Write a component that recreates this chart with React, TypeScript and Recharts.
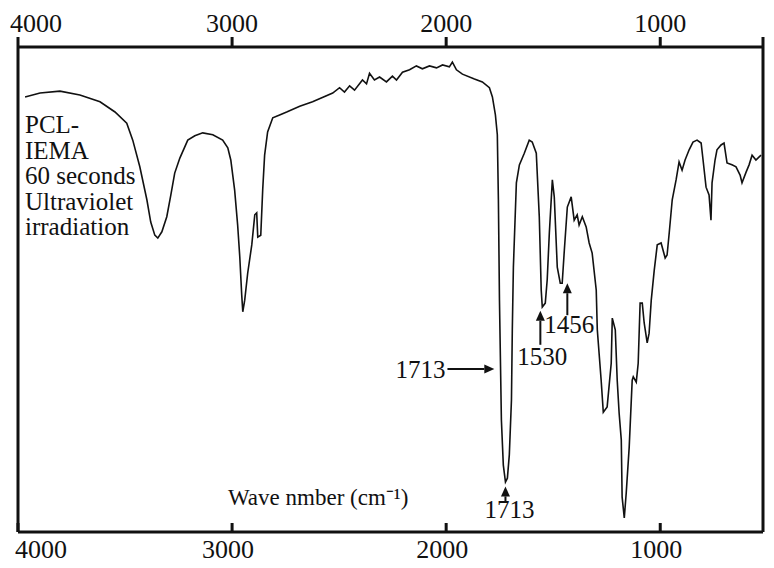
import { LineChart, Line, XAxis, YAxis, ReferenceLine } from "recharts";

// FTIR spectrum (wavenumber in cm-1, transmittance in %)
const wavenumbers = [
  3967, 3897, 3804, 3711, 3617, 3547, 3492, 3464, 3431, 3398, 3380, 3361, 3347, 3328, 3305, 3286,
  3268, 3244, 3207, 3174, 3137, 3090, 3044, 3020, 3006, 2988, 2974, 2964, 2955, 2950, 2941, 2927,
  2908, 2894, 2885, 2880, 2866, 2857, 2848, 2834, 2810, 2778, 2745, 2684, 2624, 2530, 2498, 2475,
  2451, 2428, 2391, 2372, 2358, 2335, 2311, 2279, 2251, 2232, 2204, 2171, 2139, 2111, 2078, 2045,
  2017, 1985, 1971, 1952, 1924, 1868, 1831, 1798, 1784, 1770, 1761, 1756, 1751, 1742, 1733, 1723,
  1714, 1705, 1695, 1691, 1686, 1672, 1658, 1635, 1612, 1598, 1579, 1565, 1556, 1551, 1537, 1528,
  1518, 1504, 1495, 1481, 1467, 1458, 1448, 1434, 1416, 1402, 1388, 1379, 1364, 1346, 1332, 1318,
  1299, 1294, 1276, 1266, 1248, 1229, 1224, 1210, 1201, 1192, 1182, 1178, 1168, 1159, 1145, 1131,
  1126, 1112, 1103, 1094, 1084, 1075, 1061, 1052, 1042, 1028, 1014, 996, 977, 968, 958, 944,
  926, 912, 898, 884, 865, 847, 828, 809, 800, 786, 772, 763, 758, 744, 735, 716,
  702, 688, 665, 646, 627, 618, 599, 585, 571, 553, 539, 529,
];
const transmittance = [
  89.7, 90.5, 90.9, 90.1, 88.7, 86.6, 84.3, 80.8, 75.3, 68.5, 63.9, 61.2, 60.6, 61.9, 65.0, 69.5,
  74.0, 77.1, 80.8, 81.7, 82.3, 81.9, 80.8, 79.2, 76.7, 70.5, 63.3, 56.7, 48.9, 45.4, 47.8, 53.4,
  59.2, 65.4, 65.8, 60.8, 61.2, 70.5, 77.7, 82.5, 85.4, 86.0, 86.6, 87.8, 88.7, 90.5, 91.6, 90.7,
  92.0, 91.1, 93.2, 92.4, 94.6, 93.2, 93.8, 92.8, 94.0, 93.2, 94.8, 95.3, 96.1, 95.5, 96.1, 95.7,
  96.3, 95.9, 96.9, 95.3, 94.4, 93.4, 92.8, 91.6, 89.7, 86.0, 81.9, 68.5, 47.8, 23.1, 13.8, 10.3,
  11.1, 15.9, 27.2, 41.7, 54.6, 72.0, 75.7, 78.1, 80.8, 80.4, 78.1, 65.0, 49.9, 46.4, 47.2, 52.0,
  61.7, 72.6, 69.1, 54.6, 51.3, 51.3, 58.1, 67.0, 69.1, 64.3, 65.4, 63.3, 65.0, 62.9, 59.6, 57.5,
  49.9, 41.7, 31.3, 24.7, 25.8, 34.8, 44.1, 41.7, 31.3, 24.5, 19.0, 7.2, 2.9, 8.0, 17.5, 31.3,
  32.0, 30.9, 34.8, 47.2, 47.2, 43.1, 39.0, 41.0, 47.8, 54.0, 59.2, 59.6, 56.5, 57.1, 61.7, 68.5,
  72.6, 76.3, 74.6, 76.7, 78.8, 80.4, 80.8, 80.2, 76.7, 71.1, 69.5, 64.3, 72.0, 76.7, 78.8, 79.8,
  80.2, 76.1, 75.7, 75.3, 73.6, 72.0, 74.2, 75.7, 77.7, 76.7, 77.3, 77.7,
];

const topTicks = [4000, 3000, 2000, 1000, 520];
const bottomTicks = [4000, 3000, 2000, 1000];

const sampleLines = ["PCL-", "IEMA", "60 seconds", "Ultraviolet", "irradiation"];
const axisTitle = "Wave nmber (cm⁻¹)";

// peak markers: label, arrow tail, arrow head (data coordinates)
const peakLabels = ["1713", "1713", "1530", "1456"];
const arrowTail = [
  [1994, 33.6],
  [1723, 6.0],
  [1560, 38.6],
  [1434, 44.7],
];
const arrowHead = [
  [1775, 33.6],
  [1723, 9.4],
  [1560, 45.6],
  [1434, 51.3],
];

const data = wavenumbers.map((w, i) => ({ wn: w, t: transmittance[i] }));

const FONT = '"Liberation Serif", "Times New Roman", serif';
const INK = "#111";

// where each label sits relative to the arrow tail
const labelPlacement = [
  { dx: -2, dy: 9, anchor: "end" },
  { dx: 4, dy: 15, anchor: "middle" },
  { dx: -23, dy: 20, anchor: "start" },
  { dx: -23, dy: 18, anchor: "start" },
];

function makeArrow(i: number) {
  return (p: any) => {
    const { x1, y1, x2, y2 } = p;
    const ang = Math.atan2(y2 - y1, x2 - x1);
    const len = 10;
    const hw = 4.5;
    const bx = x2 - len * Math.cos(ang);
    const by = y2 - len * Math.sin(ang);
    const nx = -Math.sin(ang) * hw;
    const ny = Math.cos(ang) * hw;
    const lp = labelPlacement[i];
    return (
      <g>
        <line x1={x1} y1={y1} x2={bx} y2={by} stroke={INK} strokeWidth={2} />
        <polygon points={`${x2},${y2} ${bx + nx},${by + ny} ${bx - nx},${by - ny}`} fill={INK} />
        <text
          x={x1 + lp.dx}
          y={y1 + lp.dy}
          textAnchor={lp.anchor as any}
          fontFamily={FONT}
          fontSize={25}
          fill={INK}
        >
          {peakLabels[i]}
        </text>
      </g>
    );
  };
}

function TopTick({ x, y, payload }: any) {
  if (payload.value === 520) return <g />;
  const first = payload.value === 4000;
  return (
    <text x={first ? x - 8 : x} y={y} textAnchor={first ? "start" : "middle"} fontFamily={FONT} fontSize={26} fill={INK}>
      {payload.value}
    </text>
  );
}

function BottomTick({ x, y, payload }: any) {
  const first = payload.value === 4000;
  return (
    <text x={first ? x - 3 : x - 4} y={y} textAnchor={first ? "start" : "middle"} fontFamily={FONT} fontSize={26} fill={INK}>
      {payload.value}
    </text>
  );
}

export default function App() {
  return (
    <div style={{ position: "absolute", left: 0, top: 0, width: 774, height: 568, background: "#fff" }}>
      <LineChart width={774} height={568} data={data} margin={{ top: 7, right: 10, bottom: 6, left: 17 }}>
        <XAxis
          xAxisId="top"
          orientation="top"
          dataKey="wn"
          type="number"
          domain={[520, 4000]}
          reversed
          ticks={topTicks}
          height={40}
          tickSize={10}
          tickMargin={5}
          axisLine={{ stroke: INK, strokeWidth: 3 }}
          tickLine={{ stroke: INK, strokeWidth: 3 }}
          tick={<TopTick />}
        />
        <XAxis
          xAxisId="bottom"
          orientation="bottom"
          dataKey="wn"
          type="number"
          domain={[520, 4000]}
          reversed
          ticks={bottomTicks}
          height={30}
          tickSize={-9}
          tickMargin={35}
          axisLine={{ stroke: INK, strokeWidth: 3 }}
          tickLine={{ stroke: INK, strokeWidth: 3 }}
          tick={<BottomTick />}
        />
        <YAxis yAxisId="left" domain={[0, 100]} width={1} tick={false} tickLine={false} axisLine={{ stroke: INK, strokeWidth: 3 }} />
        <YAxis
          yAxisId="right"
          orientation="right"
          domain={[0, 100]}
          width={1}
          tick={false}
          tickLine={false}
          axisLine={{ stroke: INK, strokeWidth: 3 }}
        />
        <Line
          xAxisId="bottom"
          yAxisId="left"
          dataKey="t"
          type="linear"
          stroke={INK}
          strokeWidth={1.6}
          dot={false}
          isAnimationActive={false}
        />
        {peakLabels.map((lbl, i) => (
          <ReferenceLine
            key={lbl + i}
            xAxisId="bottom"
            yAxisId="left"
            segment={[
              { x: arrowTail[i][0], y: arrowTail[i][1] },
              { x: arrowHead[i][0], y: arrowHead[i][1] },
            ]}
            shape={makeArrow(i)}
          />
        ))}
      </LineChart>
      <svg width={774} height={568} style={{ position: "absolute", left: 0, top: 0, pointerEvents: "none" }}>
        {sampleLines.map((s, i) => (
          <text key={s} x={25} y={133 + i * 25.5} fontFamily={FONT} fontSize={25} fill={INK}>
            {s}
          </text>
        ))}
        <text x={228} y={505} fontFamily={FONT} fontSize={23} fill={INK}>
          {axisTitle}
        </text>
      </svg>
    </div>
  );
}
